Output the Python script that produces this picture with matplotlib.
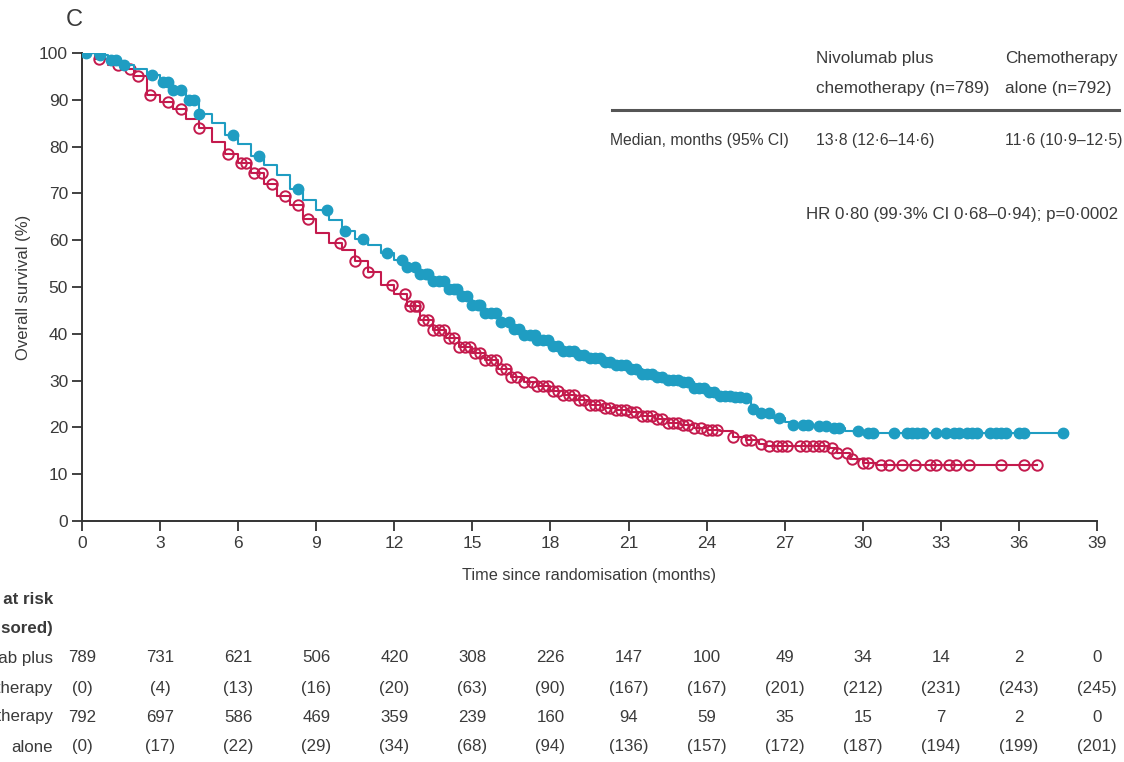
import numpy as np
import matplotlib
matplotlib.use("Agg")
import matplotlib.pyplot as plt
from matplotlib.transforms import blended_transform_factory

# ---------------- data ----------------
nivo_t = [0, 0.5, 1.0, 1.5, 2.0, 2.5, 3.0, 3.5, 4.0, 4.5, 5.0, 5.5, 6.0, 6.5, 7.0, 7.5, 8.0, 8.5,
          9.0, 9.5, 10.0, 10.5, 11.0, 11.5, 12.0, 12.5, 13.0, 13.5, 14.0, 14.5, 15.0, 15.5, 16.0,
          16.5, 17.0, 17.5, 18.0, 18.5, 19.0, 19.5, 20.0, 20.5, 21.0, 21.5, 22.0, 22.5, 23.0, 23.5,
          24.0, 24.5, 25.0, 25.5, 25.7, 26.0, 26.5, 27.0, 27.3, 28.0, 28.7, 29.3, 30.0, 30.5, 37.7]
nivo_s = [100, 99.5, 98.5, 97.5, 96.5, 95.3, 93.8, 92.2, 90.0, 87.0, 85.0, 82.5, 80.5, 78.0, 76.0,
          74.0, 71.0, 68.5, 66.5, 64.3, 62.0, 60.3, 59.0, 57.3, 55.8, 54.3, 52.7, 51.3, 49.5, 48.0,
          46.2, 44.5, 42.6, 41.0, 39.8, 38.6, 37.3, 36.3, 35.5, 34.8, 34.0, 33.3, 32.5, 31.5, 30.8,
          30.2, 29.6, 28.5, 27.6, 26.8, 26.5, 26.2, 24.0, 23.0, 22.0, 21.2, 20.5, 20.2, 19.8, 19.3,
          18.9, 18.7, 18.7]
nivo_censor = [0.15, 0.7, 1.1, 1.3, 1.6, 2.7, 3.1, 3.3, 3.5, 3.8, 4.1, 4.3, 4.5, 5.8, 6.8, 8.3, 9.4,
               10.1, 10.8, 11.7, 12.3, 12.5, 12.8, 13.0, 13.2, 13.3, 13.5, 13.7, 13.9, 14.1, 14.3,
               14.4, 14.6, 14.8, 15.0, 15.2, 15.3, 15.5, 15.7, 15.9, 16.1, 16.4, 16.6, 16.8, 17.0,
               17.2, 17.4, 17.5, 17.7, 17.9, 18.1, 18.3, 18.5, 18.7, 18.9, 19.1, 19.3, 19.5, 19.7,
               19.9, 20.1, 20.3, 20.5, 20.7, 20.9, 21.1, 21.3, 21.5, 21.7, 21.9, 22.1, 22.3, 22.5,
               22.7, 22.9, 23.1, 23.3, 23.5, 23.7, 23.9, 24.1, 24.3, 24.5, 24.7, 24.9, 25.1, 25.3,
               25.5, 25.8, 26.1, 26.4, 26.8, 27.3, 27.7, 27.9, 28.3, 28.6, 28.9, 29.1, 29.8, 30.2,
               30.4, 31.2, 31.7, 31.9, 32.1, 32.3, 32.8, 33.2, 33.5, 33.7, 34.0, 34.2, 34.4, 34.9,
               35.1, 35.3, 35.5, 36.0, 36.2, 37.7]

chemo_t = [0, 0.5, 1.0, 1.5, 2.0, 2.5, 3.0, 3.5, 4.0, 4.5, 5.0, 5.5, 6.0, 6.5, 7.0, 7.5, 8.0, 8.5,
           9.0, 9.5, 10.0, 10.5, 11.0, 11.5, 12.0, 12.5, 13.0, 13.5, 14.0, 14.5, 15.0, 15.5, 16.0,
           16.5, 17.0, 17.5, 18.0, 18.5, 19.0, 19.5, 20.0, 20.5, 21.0, 21.5, 22.0, 22.5, 23.0, 23.5,
           24.0, 24.5, 25.0, 25.5, 26.0, 26.3, 28.7, 29.0, 29.5, 30.0, 30.5, 36.7]
chemo_s = [100, 98.7, 97.5, 96.5, 95.0, 91.0, 89.5, 88.0, 86.0, 84.0, 81.0, 78.5, 76.5, 74.3, 72.0,
           69.5, 67.5, 64.5, 61.5, 59.5, 57.8, 55.5, 53.2, 50.5, 48.5, 46.0, 43.0, 40.8, 39.0, 37.2,
           36.0, 34.5, 32.5, 30.8, 29.8, 28.8, 27.8, 27.0, 25.8, 24.8, 24.2, 23.8, 23.3, 22.5, 21.7,
           21.0, 20.5, 19.8, 19.4, 19.2, 18.0, 17.3, 16.5, 16.0, 15.7, 14.6, 13.2, 12.5, 12.0, 12.0]
chemo_censor = [0.65, 1.4, 1.85, 2.15, 2.6, 3.3, 3.8, 4.5, 5.6, 6.1, 6.3, 6.6, 6.9, 7.3, 7.8, 8.3,
                8.7, 9.9, 10.5, 11.0, 11.9, 12.4, 12.6, 12.8, 12.9, 13.1, 13.3, 13.5, 13.7, 13.9,
                14.1, 14.3, 14.5, 14.7, 14.9, 15.1, 15.3, 15.5, 15.7, 15.9, 16.1, 16.3, 16.5, 16.7,
                17.0, 17.3, 17.5, 17.7, 17.9, 18.1, 18.3, 18.5, 18.7, 18.9, 19.1, 19.3, 19.5, 19.7,
                19.9, 20.1, 20.3, 20.5, 20.7, 20.9, 21.1, 21.3, 21.5, 21.7, 21.9, 22.1, 22.3, 22.5,
                22.7, 22.9, 23.1, 23.3, 23.5, 23.8, 24.0, 24.2, 24.4, 25.0, 25.5, 25.7, 26.1, 26.4,
                26.7, 26.9, 27.1, 27.6, 27.8, 28.1, 28.3, 28.5, 28.8, 29.0, 29.4, 29.6, 30.0, 30.2,
                30.7, 31.0, 31.5, 32.0, 32.6, 32.8, 33.3, 33.6, 34.1, 35.3, 36.2, 36.7]

risk_times = [0, 3, 6, 9, 12, 15, 18, 21, 24, 27, 30, 33, 36, 39]
nivo_risk = [789, 731, 621, 506, 420, 308, 226, 147, 100, 49, 34, 14, 2, 0]
nivo_cens = [0, 4, 13, 16, 20, 63, 90, 167, 167, 201, 212, 231, 243, 245]
chemo_risk = [792, 697, 586, 469, 359, 239, 160, 94, 59, 35, 15, 7, 2, 0]
chemo_cens = [0, 17, 22, 29, 34, 68, 94, 136, 157, 172, 187, 194, 199, 201]

x_ticks = [0, 3, 6, 9, 12, 15, 18, 21, 24, 27, 30, 33, 36, 39]
y_ticks = [0, 10, 20, 30, 40, 50, 60, 70, 80, 90, 100]

BLUE = "#1f9dc2"
RED = "#c41a4d"
TXT = "#3a3a3a"
FONT = ["Liberation Sans", "DejaVu Sans"]

plt.rcParams["font.family"] = FONT

W, H = 1124, 762
fig = plt.figure(figsize=(W / 100, H / 100), dpi=100)

def fx(px):
    return px / W

def fy(py):
    return 1 - py / H

ax = fig.add_axes([fx(82), fy(521), fx(1097) - fx(82), fy(53) - fy(521)])
ax.set_xlim(0, 39)
ax.set_ylim(0, 100)
for s in ["top", "right"]:
    ax.spines[s].set_visible(False)
for s in ["left", "bottom"]:
    ax.spines[s].set_color("#333333")
    ax.spines[s].set_linewidth(1.4)
ax.set_xticks(x_ticks)
ax.set_yticks(y_ticks)
ax.tick_params(axis="both", direction="out", length=7, width=1.3, color="#333333",
               labelsize=12.5, labelcolor=TXT)
ax.tick_params(axis="x", pad=4)
ax.tick_params(axis="y", pad=3)


def step_value(t_nodes, s_nodes, times):
    idx = np.searchsorted(np.asarray(t_nodes), np.asarray(times), side="right") - 1
    return np.asarray(s_nodes)[idx]

# curves
ax.plot(chemo_t, chemo_s, drawstyle="steps-post", color=RED, lw=1.5, zorder=3)
ax.plot(chemo_censor, step_value(chemo_t, chemo_s, chemo_censor), ls="none", marker="o",
        ms=7.5, mfc="none", mec=RED, mew=1.4, zorder=4)
ax.plot(nivo_t, nivo_s, drawstyle="steps-post", color=BLUE, lw=1.5, zorder=5)
ax.plot(nivo_censor, step_value(nivo_t, nivo_s, nivo_censor), ls="none", marker="o",
        ms=7.5, mfc=BLUE, mec=BLUE, mew=1.0, zorder=6)

ax.set_ylabel("Overall survival (%)", fontsize=12, color=TXT)
ax.yaxis.set_label_coords(-0.05, 0.5)
ax.set_xlabel("Time since randomisation (months)", fontsize=11.7, color=TXT, labelpad=12)

# panel letter
fig.text(fx(66), fy(20), "C", fontsize=17, color=TXT, ha="left", va="center")

# top-right table
HS = 12.3
MS = 11.3
fig.text(fx(816), fy(58), "Nivolumab plus", fontsize=HS, color=TXT, ha="left", va="center")
fig.text(fx(816), fy(88), "chemotherapy (n=789)", fontsize=HS, color=TXT, ha="left", va="center")
fig.text(fx(1005), fy(58), "Chemotherapy", fontsize=HS, color=TXT, ha="left", va="center")
fig.text(fx(1005), fy(88), "alone (n=792)", fontsize=HS, color=TXT, ha="left", va="center")
fig.add_artist(plt.Line2D([fx(612), fx(1119)], [fy(110), fy(110)], color="#555555", lw=2.2,
                          transform=fig.transFigure))
fig.text(fx(610), fy(140), "Median, months (95% CI)", fontsize=MS, color=TXT, ha="left", va="center")
fig.text(fx(816), fy(140), "13·8 (12·6–14·6)", fontsize=MS, color=TXT, ha="left", va="center")
fig.text(fx(1005), fy(140), "11·6 (10·9–12·5)", fontsize=MS, color=TXT, ha="left", va="center")
fig.text(fx(1118), fy(215), "HR 0·80 (99·3% CI 0·68–0·94); p=0·0002", fontsize=12.2, color=TXT,
         ha="right", va="center")

# risk table
tr = blended_transform_factory(ax.transData, fig.transFigure)
row_y = [fy(658), fy(688), fy(717), fy(747)]
rows = [nivo_risk, ["({})".format(v) for v in nivo_cens],
        chemo_risk, ["({})".format(v) for v in chemo_cens]]
for yy, vals in zip(row_y, rows):
    for t, v in zip(risk_times, vals):
        ax.text(t, yy, str(v), transform=tr, ha="center", va="center", fontsize=12.2, color=TXT,
                clip_on=False)

lab_x = fx(53)
for py, s in [(600, "Number at risk"), (628, "(number censored)"), (658, "Nivolumab plus"),
              (688, "chemotherapy"), (717, "Chemotherapy"), (747, "alone")]:
    bold = py in (600, 628)
    fig.text(lab_x, fy(py), s, fontsize=12.2, color=TXT, ha="right", va="center",
             fontweight="bold" if bold else "normal")

fig.savefig("out.png", dpi=100)
